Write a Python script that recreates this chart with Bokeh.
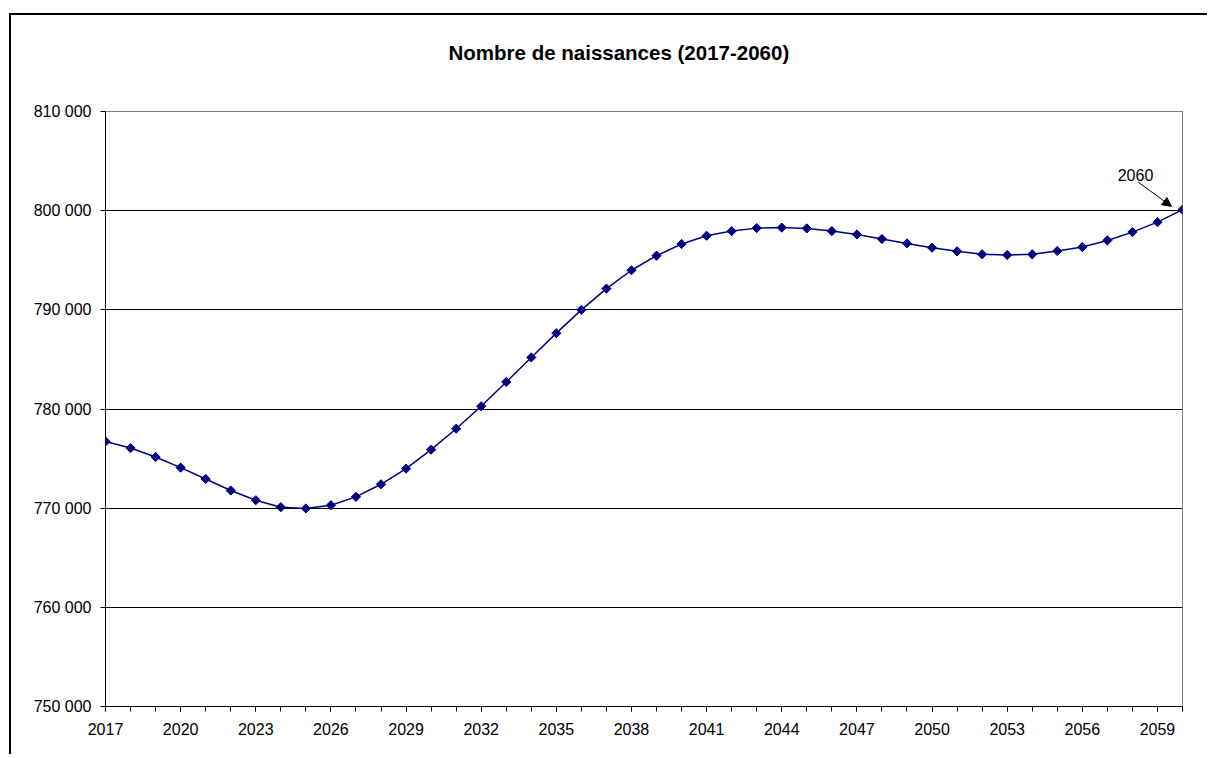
import numpy as np
from bokeh.plotting import figure
from bokeh.models import Range1d, FixedTicker, Label, Arrow, NormalHead, LinearAxis
from bokeh.embed import file_html
from bokeh.resources import INLINE

# ---- data ----
years = list(range(2017, 2061))
births = [776730, 776060, 775160, 774090, 772940, 771780, 770800, 770100, 769970, 770300,
          771140, 772410, 773990, 775900, 778010, 780280, 782730, 785200, 787650, 790000,
          792140, 793990, 795460, 796640, 797470, 797940, 798240, 798290, 798210, 797940,
          797600, 797140, 796700, 796260, 795900, 795600, 795530, 795600, 795930, 796330,
          797000, 797840, 798840, 800100]
x_tick_years = years[::3]
y_ticks = [750000, 760000, 770000, 780000, 790000, 800000, 810000]
y_tick_labels = ["750 000", "760 000", "770 000", "780 000", "790 000", "800 000", "810 000"]
title_text = "Nombre de naissances (2017-2060)"
note_text = "2060"

FONT = "Liberation Sans"

p = figure(width=1198, height=741,
           x_range=Range1d(years[0], years[-1]),
           y_range=Range1d(y_ticks[0], y_ticks[-1]),
           output_backend="svg", toolbar_location=None,
           min_border_left=94, min_border_right=27, min_border_top=96, min_border_bottom=50,
           styles={"margin-left": "9px", "margin-top": "13px",
                   "border-left": "2px solid black", "border-top": "2px solid black"})

p.background_fill_color = "white"
p.border_fill_color = "white"
p.outline_line_color = "#808080"
p.outline_line_width = 1

# grid
p.xgrid.visible = False
p.ygrid.ticker = FixedTicker(ticks=y_ticks)
p.ygrid.grid_line_color = "black"
p.ygrid.grid_line_width = 1

# x axis
xa = p.xaxis[0]
xa.ticker = FixedTicker(ticks=x_tick_years, minor_ticks=years)
xa.major_tick_out = 5
xa.major_tick_in = 0
xa.minor_tick_out = 5
xa.minor_tick_in = 0
xa.axis_line_color = "black"
xa.major_tick_line_color = "black"
xa.minor_tick_line_color = "black"
xa.major_label_text_font = FONT
xa.major_label_text_font_size = "16px"
xa.major_label_text_color = "black"
xa.major_label_standoff = 11

# y axis
ya = p.yaxis[0]
ya.ticker = FixedTicker(ticks=y_ticks, minor_ticks=[])
ya.major_label_overrides = {t: l for t, l in zip(y_ticks, y_tick_labels)}
ya.major_tick_out = 5
ya.major_tick_in = 0
ya.minor_tick_out = 0
ya.minor_tick_in = 0
ya.axis_line_color = "black"
ya.major_tick_line_color = "black"
ya.major_label_text_font = FONT
ya.major_label_text_font_size = "16px"
ya.major_label_text_color = "black"
ya.major_label_standoff = 9

# invisible spacer panel between plot area and title (white tick on white background)
spacer = LinearAxis(ticker=FixedTicker(ticks=[years[0]], minor_ticks=[]),
                    axis_line_color=None, major_tick_line_color="white",
                    minor_tick_line_color=None, major_tick_out=48, major_tick_in=0,
                    minor_tick_out=0, minor_tick_in=0, major_label_standoff=0,
                    major_label_text_font_size="1px", major_label_text_alpha=0)
p.add_layout(spacer, "above")

# title
p.title.text = title_text
p.title.align = "left"
p.title.offset = 343
p.title.vertical_align = "bottom"
p.title.standoff = 0
p.title.text_font = FONT
p.title.text_font_style = "bold"
p.title.text_font_size = "20.5px"
p.title.text_color = "black"

# series
p.line(years, births, line_color="#000080", line_width=1.5)
p.scatter(years, births, marker="square", size=6.5, angle=np.pi / 4,
          fill_color="#000080", line_color="#000080")

# 2060 annotation
p.add_layout(Label(x=years[-1], y=births[-1], x_offset=-47, y_offset=35, text=note_text,
                   text_font=FONT, text_font_size="16px", text_align="center",
                   text_baseline="middle", text_color="black"))
p.add_layout(Arrow(x_start=years[-1] - 1.77, y_start=births[-1] + 2780,
                   x_end=years[-1] - 0.44, y_end=births[-1] + 330,
                   line_color="black", line_width=1,
                   end=NormalHead(size=9, fill_color="black", line_color="black")))

open("out.html", "w").write(file_html(p, INLINE))
